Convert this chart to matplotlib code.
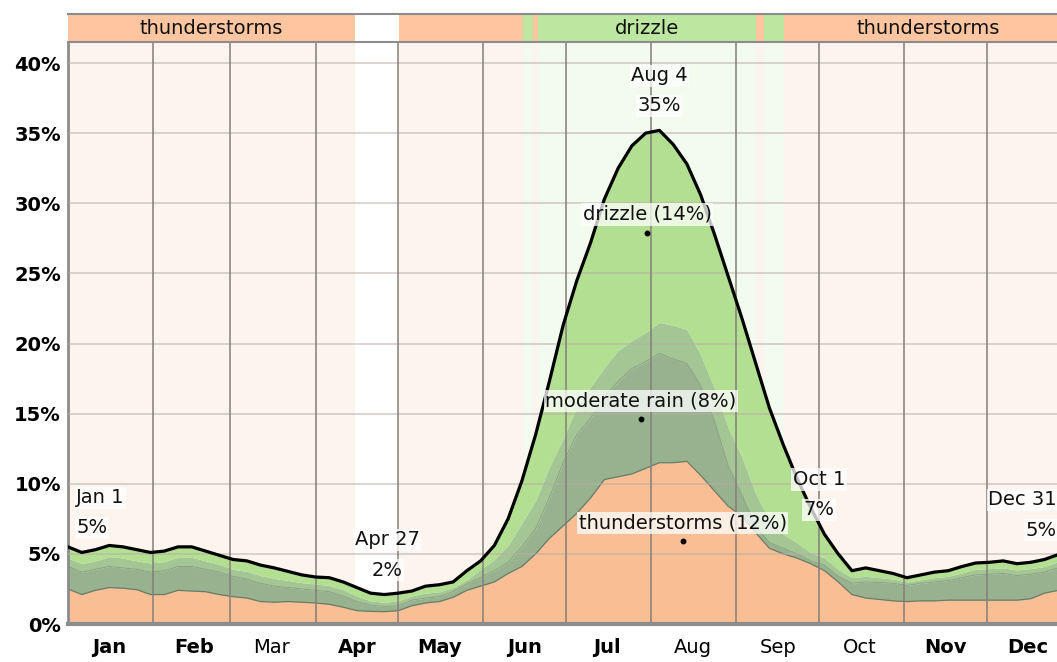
import numpy as np
import matplotlib
matplotlib.use("Agg")
import matplotlib.pyplot as plt

# day of year (0 = Jan 1), sampled every 5 days
days = list(range(0, 366, 5))

# cumulative tops of the stacked layers, in percent
thunder_top = [2.5, 2.1, 2.4, 2.6, 2.55, 2.45, 2.1, 2.1, 2.4, 2.35, 2.3, 2.1, 1.95, 1.85, 1.6,
               1.55, 1.6, 1.55, 1.5, 1.4, 1.2, 0.95, 0.9, 0.88, 0.95, 1.3, 1.5, 1.6, 1.9, 2.4,
               2.7, 3.0, 3.6, 4.1, 5.0, 6.1, 7.0, 7.9, 9.0, 10.3, 10.5, 10.7, 11.1, 11.5, 11.5,
               11.6, 10.6, 9.5, 8.4, 7.7, 6.5, 5.4, 5.0, 4.7, 4.3, 3.8, 3.0, 2.1, 1.85, 1.75,
               1.65, 1.6, 1.65, 1.65, 1.7, 1.7, 1.7, 1.7, 1.7, 1.7, 1.8, 2.2, 2.4, 2.5]
moderate_top = [4.1, 3.7, 3.9, 4.1, 4.0, 3.9, 3.7, 3.8, 4.1, 4.1, 3.9, 3.7, 3.4, 3.2, 2.9,
                2.7, 2.6, 2.5, 2.4, 2.3, 2.0, 1.6, 1.35, 1.25, 1.3, 1.7, 1.85, 1.95, 2.3, 2.85,
                3.3, 3.8, 4.4, 5.5, 6.8, 9.0, 11.5, 13.5, 14.7, 16.2, 17.3, 18.2, 18.7, 19.3, 18.9,
                18.6, 17.0, 14.5, 11.3, 9.2, 7.0, 5.8, 5.4, 5.0, 4.5, 4.2, 3.4, 2.9, 3.0, 2.95,
                2.9, 2.75, 2.9, 3.0, 3.1, 3.3, 3.5, 3.55, 3.6, 3.45, 3.55, 3.7, 4.0, 4.2]
light_top = [4.7, 4.3, 4.5, 4.8, 4.7, 4.5, 4.35, 4.45, 4.75, 4.75, 4.5, 4.25, 3.9, 3.75, 3.45,
             3.25, 3.1, 2.95, 2.85, 2.75, 2.45, 2.0, 1.65, 1.55, 1.65, 2.0, 2.2, 2.3, 2.6, 3.15,
             3.9, 4.6, 5.6, 7.2, 8.8, 11.2, 13.2, 15.5, 16.9, 18.3, 19.5, 20.2, 20.8, 21.5, 21.3,
             21.0, 19.2, 16.8, 14.0, 11.9, 9.3, 7.4, 6.4, 5.8, 5.1, 4.7, 3.9, 3.3, 3.4, 3.3,
             3.2, 3.0, 3.15, 3.3, 3.4, 3.65, 3.9, 3.95, 4.0, 3.85, 3.95, 4.1, 4.45, 4.65]
total = [5.5, 5.1, 5.3, 5.6, 5.5, 5.3, 5.1, 5.2, 5.5, 5.5, 5.2, 4.9, 4.6, 4.5, 4.2,
         4.0, 3.75, 3.5, 3.35, 3.3, 3.0, 2.6, 2.2, 2.1, 2.2, 2.35, 2.7, 2.8, 3.0, 3.8,
         4.5, 5.6, 7.5, 10.2, 13.5, 17.3, 21.3, 24.5, 27.2, 30.3, 32.5, 34.1, 35.0, 35.2, 34.2,
         32.8, 30.6, 27.8, 24.8, 21.8, 18.6, 15.4, 12.8, 10.4, 8.3, 6.4, 5.0, 3.8, 4.0, 3.8,
         3.6, 3.3, 3.5, 3.7, 3.8, 4.1, 4.35, 4.4, 4.5, 4.3, 4.4, 4.6, 4.95, 5.2]

# dominant condition bands: start day, end day, kind
band_start = [0, 104.3, 120.3, 165.4, 169, 170.8, 250, 253, 260.3]
band_end = [104.3, 120.3, 165.4, 169, 170.8, 250, 253, 260.3, 366]
band_kind = ["thunderstorms", None, "thunderstorms", "drizzle", "thunderstorms",
             "drizzle", "thunderstorms", "drizzle", "thunderstorms"]
band_labels = [(104.3 / 2, "thunderstorms"), (210.4, "drizzle"), (312.6, "thunderstorms")]

month_starts = [0, 31, 59, 90, 120, 151, 181, 212, 243, 273, 304, 334]
month_names = ["Jan", "Feb", "Mar", "Apr", "May", "Jun", "Jul", "Aug", "Sep", "Oct", "Nov", "Dec"]
month_bold = [True, True, False, True, True, True, True, False, False, False, True, True]

# layer name, percent shown, dot position (day, value)
layer_notes = [("drizzle", 14, 210.5, 27.9),
               ("moderate rain", 8, 208.3, 14.6),
               ("thunderstorms", 12, 223.5, 5.9)]
# date annotations: day, label, value shown
date_notes = [(3, "Jan 1", "5%"), (116, "Apr 27", "2%"), (215, "Aug 4", "35%"),
              (273, "Oct 1", "7%"), (359.5, "Dec 31", "5%")]

band_strong = {"thunderstorms": "#fec6a0", "drizzle": "#bde6a1", None: "#ffffff"}
band_light = {"thunderstorms": "#fdf4ee", "drizzle": "#f3faee", None: "#ffffff"}

W, H = 1057, 662
fig = plt.figure(figsize=(W / 100, H / 100), dpi=100)
ax = fig.add_axes([68 / W, (H - 624) / H, (1072 - 68) / W, (624 - 42) / H])
top = fig.add_axes([68 / W, (H - 42) / H, (1072 - 68) / W, 28 / H])

for s, e, k in zip(band_start, band_end, band_kind):
    ax.axvspan(s, e, color=band_light[k], lw=0, zorder=0)
    top.axvspan(s, e, color=band_strong[k], lw=0, zorder=0)
for x, name in band_labels:
    top.text(x, 0.5, name, ha="center", va="center", fontsize=14, color="#111111")

top.set_xlim(0, 365)
top.set_ylim(0, 1)
top.set_xticks([])
top.set_yticks([])
for sp in ["left", "right"]:
    top.spines[sp].set_visible(False)
for sp in ["top", "bottom"]:
    top.spines[sp].set_color("#8c8c8c")
    top.spines[sp].set_linewidth(1.5)

d = np.array(days)
ax.fill_between(d, 0, thunder_top, color="#f9be94", lw=0, zorder=1)
ax.fill_between(d, thunder_top, moderate_top, color="#98b28f", lw=0, zorder=1)
ax.fill_between(d, moderate_top, light_top, color="#a4c594", lw=0, zorder=1)
ax.fill_between(d, light_top, total, color="#b3df92", lw=0, zorder=1)
ax.plot(d, thunder_top, color="#6e7a66", lw=0.9, zorder=2)
ax.plot(d, moderate_top, color="#8aa382", lw=0.7, zorder=2)

for y in range(5, 45, 5):
    ax.axhline(y, color="#b8aea6", lw=1.3, alpha=0.55, zorder=3)
for m in month_starts[1:]:
    ax.axvline(m, color="#857f7a", lw=1.4, alpha=0.8, zorder=3)

ax.plot(d, total, color="black", lw=2.3, zorder=4, solid_joinstyle="round")

box = dict(boxstyle="square,pad=0.08", fc="white", ec="none", alpha=0.75)
for name, pct, x, y in layer_notes:
    ax.plot(x, y, "o", color="black", ms=3.2, zorder=6)
    ax.text(x, y + 1.3, f"{name} ({pct}%)", ha="center", va="center",
            fontsize=14, color="#111111", bbox=box, zorder=5)

aligns = ["left", "center", "center", "center", "right"]
for (x, lab, pct), ha in zip(date_notes, aligns):
    v = total[min(range(len(days)), key=lambda i: abs(days[i] - x))]
    ax.text(x, v + 3.9, lab, ha=ha, va="center", fontsize=14, color="#111111",
            bbox=box, zorder=5)
    ax.text(x, v + 1.75, pct, ha=ha, va="center", fontsize=14, color="#111111",
            bbox=box, zorder=5)

ax.set_xlim(0, 365)
ax.set_ylim(0, 41.5)
ax.set_yticks(range(0, 45, 5))
ax.set_yticklabels([f"{v}%" for v in range(0, 45, 5)], fontsize=14, fontweight="bold")
ax.set_xticks([s + 15 for s in month_starts])
ax.set_xticklabels(month_names, fontsize=14)
for lbl, b in zip(ax.get_xticklabels(), month_bold):
    lbl.set_fontweight("bold" if b else "normal")
ax.tick_params(length=0, pad=10)
ax.tick_params(axis="y", pad=5)
for sp in ["top", "right"]:
    ax.spines[sp].set_visible(False)
ax.spines["left"].set_color("#8c8c8c")
ax.spines["left"].set_linewidth(2)
ax.spines["bottom"].set_color("#8c8c8c")
ax.spines["bottom"].set_linewidth(3)
ax.spines["bottom"].set_zorder(7)

fig.savefig("out.png", dpi=100)
